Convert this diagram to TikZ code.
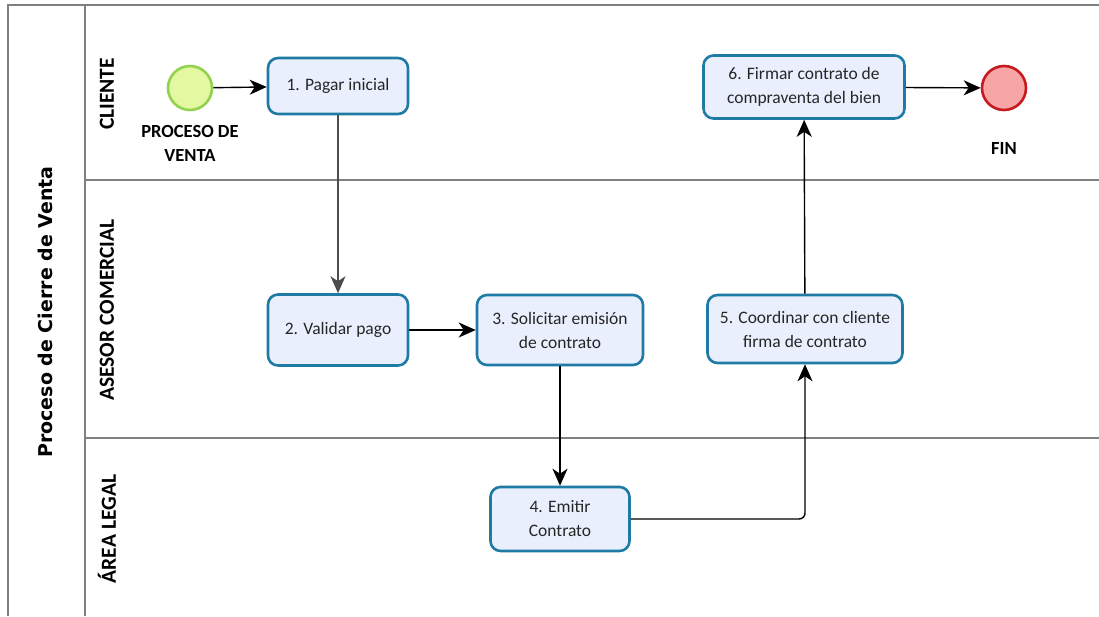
\documentclass[tikz,border=0pt]{standalone}
\usepackage{fontspec}
\setmainfont{Carlito}
\newfontfamily\poolfont{DejaVu Sans}
\usetikzlibrary{arrows.meta}

\definecolor{taskline}{HTML}{1F7BA3}
\definecolor{taskfill}{HTML}{E9EFFD}
\definecolor{startline}{HTML}{93D150}
\definecolor{startfill}{HTML}{E4F8A2}
\definecolor{endline}{HTML}{C61B1E}
\definecolor{endfill}{HTML}{F8A5A5}
\definecolor{laneline}{HTML}{808080}

\begin{document}
\begin{tikzpicture}[x=1pt,y=-1pt,
		task/.style={draw=taskline,fill=taskfill,line width=2.6pt,rounded corners=10pt,
			align=center,inner sep=0pt,text=black!85,font=\fontsize{17.5}{24}\selectfont},
		event/.style={circle,line width=2.6pt,minimum size=44pt,inner sep=0pt},
		evlabel/.style={align=center,font=\fontsize{18.5}{24}\selectfont\bfseries},
		lanelabel/.style={rotate=90,font=\fontsize{21.5}{24}\selectfont\bfseries},
		flow/.style={line width=1.4pt,-{Stealth[length=17pt,width=15pt,inset=5pt]}},
		lane/.style={draw=laneline,line width=1.8pt}]
		\useasboundingbox (0,0) rectangle (1099,616);
		% pool and lanes
		\draw [lane] (8,616) -- (8,5) -- (1099,5);
		\draw [lane] (85,5) -- (85,616);
		\draw [lane] (85,180) -- (1099,180);
		\draw [lane] (85,438) -- (1099,438);
		\node [rotate=90,font=\fontsize{19}{24}\selectfont\poolfont\bfseries] (pool) at (45,312) {Proceso de Cierre de Venta};
		\node [lanelabel] (cliente) at (107,94) {CLIENTE};
		\node [lanelabel] (asesor) at (107,310) {ASESOR COMERCIAL};
		\node [lanelabel] (legal) at (107,529) {ÁREA LEGAL};
		% events
		\node [event,draw=startline,fill=startfill] (inicio) at (190,88) {};
		\node [evlabel] (inicioL) at (190,143) {PROCESO DE\\VENTA};
		\node [event,draw=endline,fill=endfill] (fin) at (1004,88) {};
		\node [evlabel] (finL) at (1004,148) {FIN};
		% tasks
		\node [task,minimum width=140pt,minimum height=56pt] (pagar) at (338,86) {1. Pagar inicial};
		\node [task,minimum width=140pt,minimum height=71pt] (validar) at (338,330) {2. Validar pago};
		\node [task,minimum width=166pt,minimum height=70pt] (solicitar) at (560,330) {3. Solicitar emisión\\de contrato};
		\node [task,minimum width=139pt,minimum height=64pt] (emitir) at (560,519) {4. Emitir\\Contrato};
		\node [task,minimum width=195pt,minimum height=68pt] (coordinar) at (805,329) {5. Coordinar con cliente\\firma de contrato};
		\node [task,minimum width=201pt,minimum height=63pt] (firmar) at (804,87) {6. Firmar contrato de\\compraventa del bien};
		% flows
		\draw [flow] (inicio) -- (pagar);
		\draw [flow,draw=black!70] (pagar) -- (validar);
		\draw [flow] (validar) -- (solicitar);
		\draw [flow] (solicitar) -- (emitir);
		\draw [flow,rounded corners=6pt] (emitir.east) -| (coordinar.south);
		\draw [flow] (coordinar) -- (firmar);
		\draw [flow] (firmar) -- (fin);
\end{tikzpicture}
\end{document}
